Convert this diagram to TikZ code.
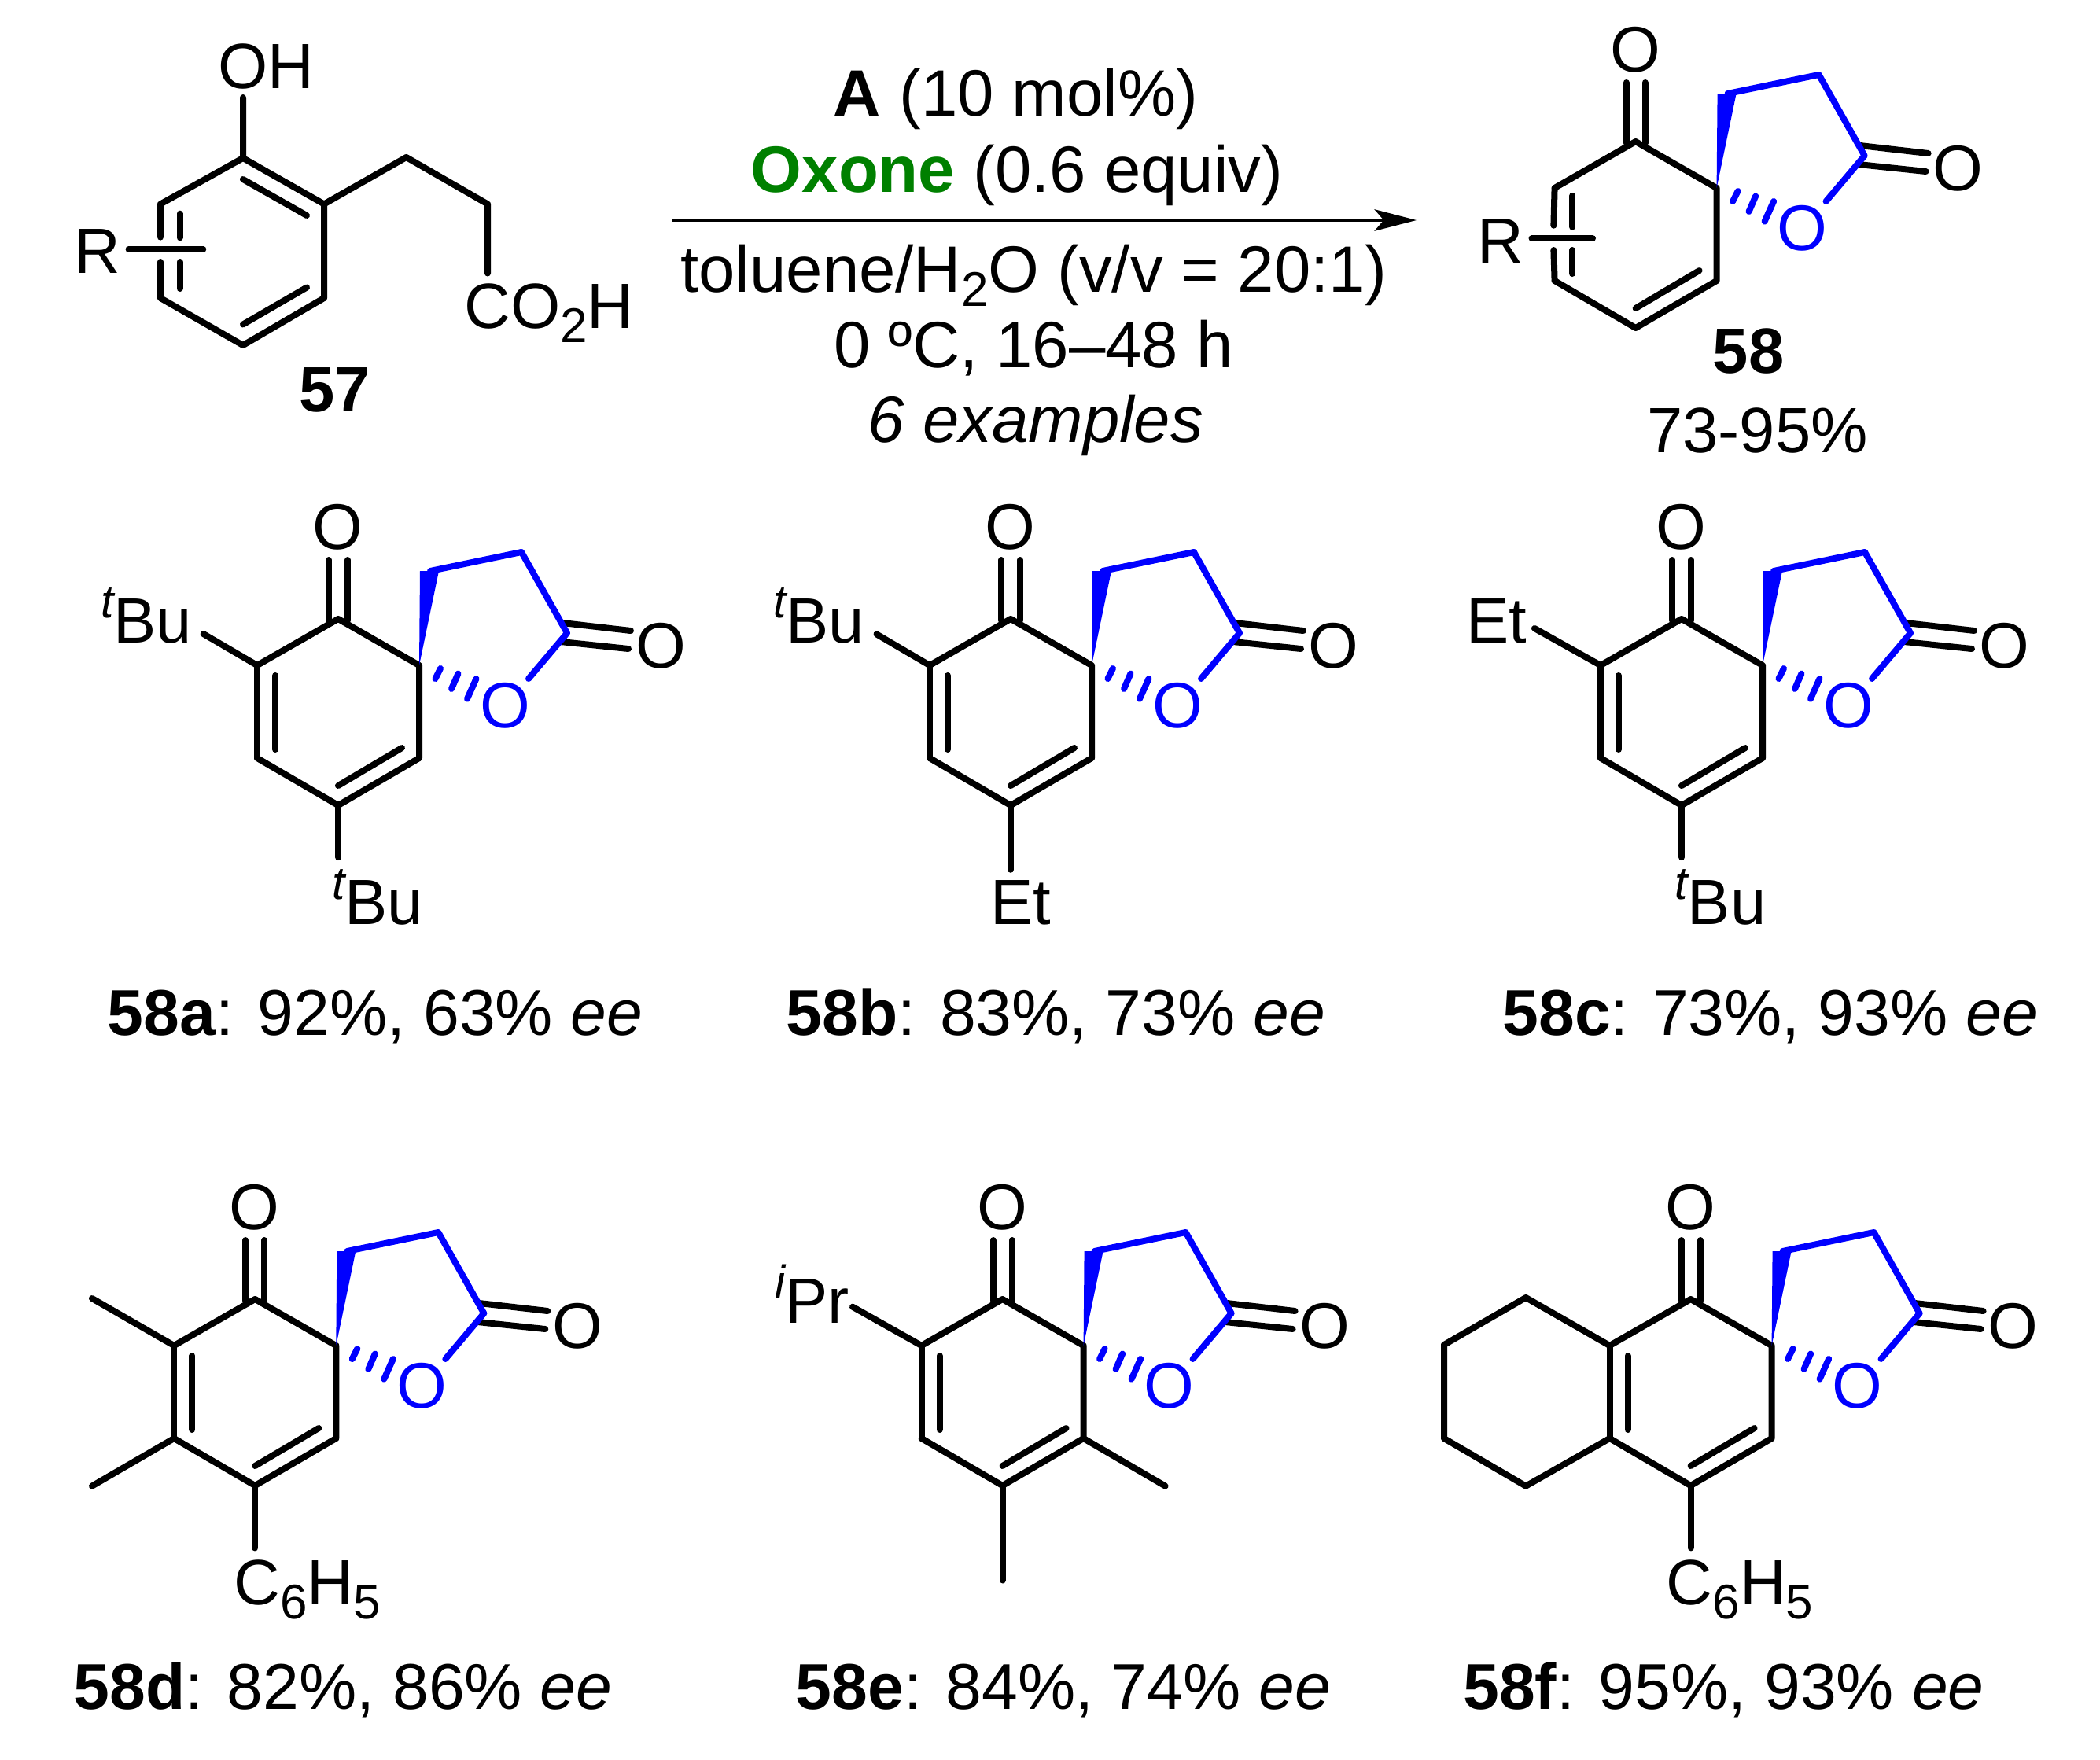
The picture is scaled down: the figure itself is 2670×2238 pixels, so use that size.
\documentclass[tikz,border=0pt]{standalone}
\usepackage{fontspec}
\setmainfont{Liberation Sans}
\usetikzlibrary{arrows.meta}
\definecolor{oxgreen}{RGB}{0,128,0}
\definecolor{lacblue}{RGB}{0,0,255}
\tikzset{
    bond/.style={line width=2.4pt,line cap=round,line join=round},
    lacbond/.style={bond,draw=lacblue},
    txt/.style={inner sep=0pt,anchor=base,font=\fontsize{24.4}{28}\selectfont},
    condtxt/.style={txt,font=\fontsize{25}{28}\selectfont},
    yieldtxt/.style={txt,font=\fontsize{24.7}{28}\selectfont},
    atom/.style={inner sep=0pt,anchor=center,font=\fontsize{24.6}{28}\selectfont}
}
\newcommand{\chemsub}[1]{\raisebox{-5.4pt}{\fontsize{18.6}{18}\selectfont #1}}
\newcommand{\chemsup}[1]{\raisebox{9.6pt}{\fontsize{17.6}{18}\selectfont\itshape #1}}
% ring with spiro lactone, side a-b left open
\newcommand{\spirocore}[3]{%
    \begin{scope}[shift={(#2,#3)}]
        \coordinate (#1s) at (0,0);
        \coordinate (#1c) at (-103,-59);
        \coordinate (#1a) at (-206,0);
        \coordinate (#1b) at (-206,118);
        \coordinate (#1g) at (-103,178);
        \coordinate (#1d) at (0,118);
        \coordinate (#1ca) at (-115,-134);
        \coordinate (#1cb) at (-115,-57);
        \coordinate (#1cc) at (-91,-134);
        \coordinate (#1cd) at (-91,-57);
        \coordinate (#1ia) at (-22,105);
        \coordinate (#1ib) at (-103,153);
        \coordinate (#1wl) at (1,-120);
        \coordinate (#1wr) at (25,-120);
        \coordinate (#1l1) at (14,-120);
        \coordinate (#1l2) at (130,-144);
        \coordinate (#1l3) at (188,-41);
        \coordinate (#1l4) at (139,17);
        \coordinate (#1xa) at (182,-54);
        \coordinate (#1xb) at (269,-44);
        \coordinate (#1xc) at (180,-30);
        \coordinate (#1xd) at (266,-21);
        \node[atom] (#1o1) at (-103.5,-175.5) {O};
        \node[atom] (#1o2) at (307,-25) {O};
        \node[atom,text=lacblue] (#1o3) at (109,51) {O};
        \draw[bond] (#1a) -- (#1c) -- (#1s) -- (#1d) -- (#1g) -- (#1b);
        \draw[bond] (#1ia) -- (#1ib);
        \draw[bond] (#1ca) -- (#1cb);
        \draw[bond] (#1cc) -- (#1cd);
        \draw[bond] (#1xa) -- (#1xb);
        \draw[bond] (#1xc) -- (#1xd);
        \fill[lacblue] (#1s) -- (#1wl) -- (#1wr) -- cycle;
        \draw[lacbond] (#1l1) -- (#1l2) -- (#1l3) -- (#1l4);
        \foreach \xa/\ya/\xb/\yb in {27/4/20.5/17,49.5/10.5/41/30,72.5/17/61/42.6}
            \draw[lacbond] (\xa,\ya) -- (\xb,\yb);
    \end{scope}}
% plain double bond a-b
\newcommand{\sidedouble}[1]{%
    \draw[bond] (#1a) -- (#1b);
    \draw[bond] ([shift={(23,13)}]#1a) -- ([shift={(23,-11)}]#1b);}
\begin{document}
\begin{tikzpicture}[x=0.3pt,y=-0.3pt,>={Stealth[length=16pt,width=8.2pt,inset=3.5pt]}]
    \useasboundingbox (0,0) rectangle (2670,2238);

    % Substrate 57
    \coordinate (r1) at (309,201);
    \coordinate (r2) at (412,259.5);
    \coordinate (r3) at (412,379);
    \coordinate (r4) at (309,439);
    \coordinate (r5) at (204,379);
    \coordinate (r6) at (204,259.5);
    \coordinate (oh) at (309,124);
    \coordinate (ch1) at (516.6,200);
    \coordinate (ch2) at (620,259.5);
    \coordinate (ch3) at (620,347.5);
    \draw[bond] (oh) -- (r1) -- (r2) -- (r3) -- (r4) -- (r5) -- (204,333);
    \draw[bond] (204,301.6) -- (r6) -- (r1);
    \draw[bond] (r2) -- (ch1) -- (ch2) -- (ch3);
    \draw[bond] (309,228) -- (390,274);
    \draw[bond] (390,365.5) -- (309,412.5);
    \draw[bond] (228.5,271.7) -- (228.5,302.3);
    \draw[bond] (228.5,333) -- (228.5,367);
    \coordinate (rba) at (163.6,317);
    \coordinate (rbb) at (258.3,317);
    \draw[bond] (rba) -- (rbb);
    \node[txt] (ohlab) at (338,112) {OH};
    \node[txt] (rlab) at (124,347.5) {R};
    \node[txt] (co2h) at (698,417) {CO\chemsub{2}H};
    \node[txt] (lab57) at (426,523) {\textbf{57}};

    % Conditions
    \coordinate (arrowstart) at (855,280);
    \coordinate (arrowend) at (1801,280);
    \draw[->,line width=1.4pt] (arrowstart) -- (arrowend);
    \node[condtxt] (catlab) at (1291.5,147) {\textbf{A} (10 mol\%)};
    \node[condtxt] (oxlab) at (1293,244) {\textcolor{oxgreen}{\textbf{Oxone}} (0.6 equiv)};
    \node[condtxt] (solvlab) at (1314.5,371) {toluene/H\chemsub{2}O (v/v = 20:1)};
    \node[condtxt] (templab) at (1314,467) {0 ºC, 16–48 h};
    \node[condtxt] (exlab) at (1317,562) {\textit{6 examples}};

    % Product 58
    \spirocore{p}{2182.6}{239}
    \draw[bond] (pa) -- (1975.4,286.7);
    \draw[bond] (1975.4,318) -- (pb);
    \draw[bond] (1999,249) -- (1999,288.6);
    \draw[bond] (1999,318) -- (1999,348);
    \coordinate (pba) at (1947.5,303.3);
    \coordinate (pbb) at (2025,303.3);
    \draw[bond] (pba) -- (pbb);
    \node[txt] (prlab) at (1908,334) {R};
    \node[txt] (lab58) at (2223,474.5) {\textbf{58}};
    \node[txt] (yield58) at (2234.6,575) {73-95\%};

    % 58a
    \spirocore{a}{533}{846}
    \sidedouble{a}
    \coordinate (aup) at (258.6,806);
    \coordinate (adn) at (430,1090);
    \draw[bond] (aa) -- (aup);
    \draw[bond] (ag) -- (adn);
    \node[txt] (atbu) at (186,817.4) {\chemsup{t}Bu};
    \node[txt] (abot) at (480,1175.6) {\chemsup{t}Bu};
    \node[yieldtxt] (alab) at (477,1316) {\textbf{58a}: 92\%, 63\% \textit{ee}};

    % 58b
    \spirocore{b}{1388}{846}
    \sidedouble{b}
    \coordinate (bup) at (1114.5,806.4);
    \coordinate (bdn) at (1285,1105.8);
    \draw[bond] (ba) -- (bup);
    \draw[bond] (bg) -- (bdn);
    \node[txt] (btbu) at (1041,817.4) {\chemsup{t}Bu};
    \node[txt] (bbot) at (1298,1175.6) {Et};
    \node[yieldtxt] (blab) at (1342.5,1316) {\textbf{58b}: 83\%, 73\% \textit{ee}};

    % 58c
    \spirocore{c}{2241}{846}
    \sidedouble{c}
    \coordinate (cup) at (1951,799);
    \coordinate (cdn) at (2138,1090);
    \draw[bond] (ca) -- (cup);
    \draw[bond] (cg) -- (cdn);
    \node[txt] (cet) at (1903,817.4) {Et};
    \node[txt] (cbot) at (2187.5,1175.6) {\chemsup{t}Bu};
    \node[yieldtxt] (clab) at (2250.7,1316) {\textbf{58c}: 73\%, 93\% \textit{ee}};

    % 58d
    \spirocore{d}{427.3}{1711}
    \sidedouble{d}
    \coordinate (dme1) at (117,1651);
    \coordinate (dme2) at (117,1889.6);
    \coordinate (ddn) at (324.3,1968.4);
    \draw[bond] (da) -- (dme1);
    \draw[bond] (db) -- (dme2);
    \draw[bond] (dg) -- (ddn);
    \node[txt] (dbot) at (390.5,2040) {C\chemsub{6}H\chemsub{5}};
    \node[yieldtxt] (dlab) at (436,2173) {\textbf{58d}: 82\%, 86\% \textit{ee}};

    % 58e
    \spirocore{e}{1377.6}{1711}
    \sidedouble{e}
    \coordinate (eup) at (1084,1661.7);
    \coordinate (eme1) at (1481.6,1889.6);
    \coordinate (eme2) at (1274.6,2009.5);
    \draw[bond] (ea) -- (eup);
    \draw[bond] (ed) -- (eme1);
    \draw[bond] (eg) -- (eme2);
    \node[txt] (eipr) at (1032.5,1682) {\chemsup{i}Pr};
    \node[yieldtxt] (elab) at (1352,2173) {\textbf{58e}: 84\%, 74\% \textit{ee}};

    % 58f
    \spirocore{f}{2252.6}{1711}
    \sidedouble{f}
    \coordinate (fr1) at (1940,1650);
    \coordinate (fr2) at (1836,1710);
    \coordinate (fr3) at (1836,1829);
    \coordinate (fr4) at (1940,1889.6);
    \coordinate (fdn) at (2149.6,1968.4);
    \draw[bond] (fa) -- (fr1) -- (fr2) -- (fr3) -- (fr4) -- (fb);
    \draw[bond] (fg) -- (fdn);
    \node[txt] (fbot) at (2212,2040) {C\chemsub{6}H\chemsub{5}};
    \node[yieldtxt] (flab) at (2191.5,2173) {\textbf{58f}: 95\%, 93\% \textit{ee}};
\end{tikzpicture}
\end{document}
